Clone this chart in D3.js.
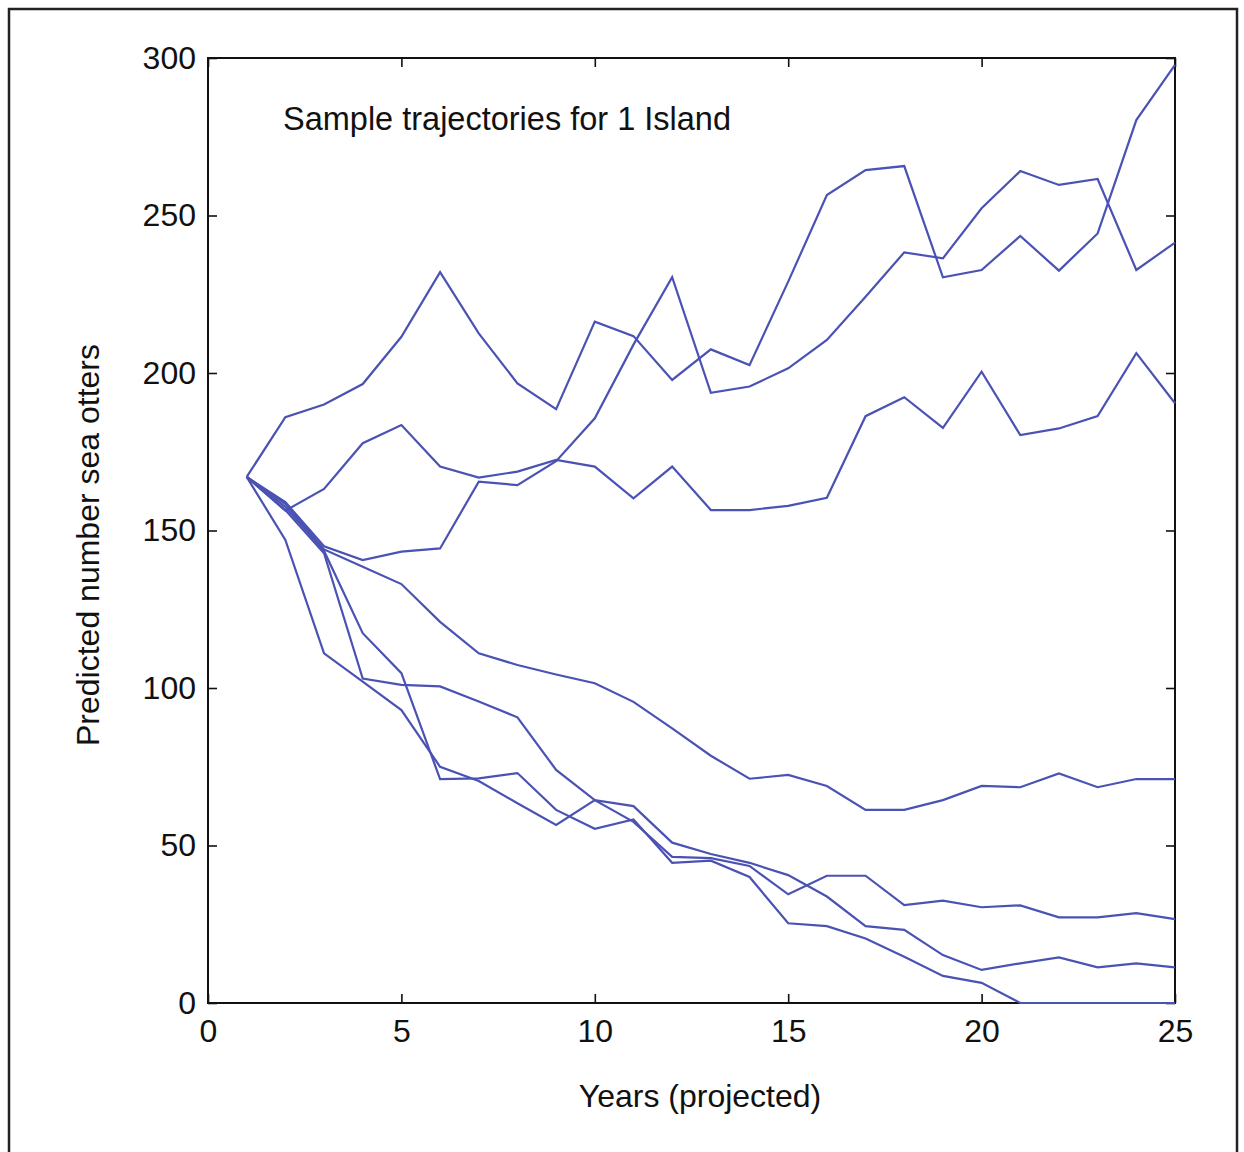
<!DOCTYPE html>
<html>
<head>
<meta charset="utf-8">
<script src="https://cdn.jsdelivr.net/npm/d3@7"></script>
<style>
  html, body { margin: 0; padding: 0; background: #ffffff; }
  svg { display: block; }
  text { font-family: "Liberation Sans", Arial, sans-serif; fill: #111; }
</style>
</head>
<body>
<svg id="chart" width="1244" height="1152"></svg>
<script>
// ---- data ----
const years = [1,2,3,4,5,6,7,8,9,10,11,12,13,14,15,16,17,18,19,20,21,22,23,24,25];
const trajA = [167,186,190,196.5,211.5,232,212.6,196.7,188.5,216.3,211.7,197.8,207.5,202.5,229,256.5,264.4,265.7,230.4,232.7,243.5,232.5,244.3,280.3,297.8];
const trajB = [167,159,145,140.6,143.3,144.3,165.5,164.4,172,185.6,209,230.4,193.7,195.7,201.5,210.5,224.2,238.3,236.4,252.3,264.1,259.7,261.6,232.7,241.4];
const trajC = [167,156.3,163.2,177.7,183.5,170.3,166.8,168.7,172.4,170.3,160.2,170.3,156.5,156.5,157.8,160.4,186.3,192.3,182.6,200.4,180.3,182.4,186.3,206.3,190.4];
const trajD = [167,158.5,144,138.5,133,121,111,107.3,104.3,101.5,95.6,87.2,78.5,71.2,72.4,68.9,61.3,61.3,64.4,68.9,68.5,72.9,68.5,71.1,71.1];
const trajE = [167,157.5,143.5,117.4,104.7,71.1,71.3,73,61.3,55.3,58.3,44.5,45.2,40,25.3,24.4,20.5,14.7,8.6,6.4,0,0,0,0,0];
const trajF = [167,156.5,142.8,103,101,100.5,95.7,90.7,74,64.4,57.5,46.4,46,43.5,34.5,40.4,40.4,31.1,32.5,30.4,31,27.2,27.2,28.5,26.6];
const trajG = [167,147,111,102,93,75,70.5,63.4,56.5,64.4,62.5,50.9,47.3,44.5,40.6,33.8,24.4,23.2,15.2,10.5,12.6,14.5,11.3,12.6,11.3];
const trajectories = [trajA, trajB, trajC, trajD, trajE, trajF, trajG];
const xTicks = [0,5,10,15,20,25];
const yTicks = [0,50,100,150,200,250,300];
const titleText = "Sample trajectories for 1 Island";
const xLabel = "Years (projected)";
const yLabel = "Predicted number sea otters";

// ---- layout ----
const svg = d3.select("#chart");
const L = 208, R = 1175, T = 58, B = 1003;
const x = d3.scaleLinear().domain([0,25]).range([L,R]);
const y = d3.scaleLinear().domain([0,300]).range([B,T]);
const lineColor = "#4a52b3";

// outer frame (bottom edge falls just outside the picture)
svg.append("rect")
  .attr("x", 9).attr("y", 9).attr("width", 1228).attr("height", 1150)
  .attr("fill", "none").attr("stroke", "#222").attr("stroke-width", 2.5);

// axes (ticks inward, MATLAB style)
function styleAxis(g, hideLabels) {
  g.select(".domain").remove();
  g.selectAll(".tick line").attr("stroke", "#111").attr("stroke-width", 1.6);
  g.selectAll(".tick text")
    .style("font-family", "'Liberation Sans', Arial, sans-serif")
    .style("font-size", "32px")
    .attr("fill", "#111");
  if (hideLabels) g.selectAll(".tick text").remove();
}
svg.append("g").attr("transform", `translate(0,${B})`)
  .call(d3.axisBottom(x).tickValues(xTicks).tickSizeInner(-9).tickSizeOuter(0).tickPadding(16).tickFormat(d3.format("d")))
  .call(g => styleAxis(g, false));
svg.append("g").attr("transform", `translate(0,${T})`)
  .call(d3.axisTop(x).tickValues(xTicks).tickSizeInner(-9).tickSizeOuter(0))
  .call(g => styleAxis(g, true));
svg.append("g").attr("transform", `translate(${L},0)`)
  .call(d3.axisLeft(y).tickValues(yTicks).tickSizeInner(-9).tickSizeOuter(0).tickPadding(12).tickFormat(d3.format("d")))
  .call(g => styleAxis(g, false));
svg.append("g").attr("transform", `translate(${R},0)`)
  .call(d3.axisRight(y).tickValues(yTicks).tickSizeInner(-9).tickSizeOuter(0))
  .call(g => styleAxis(g, true));

// plot box
svg.append("rect")
  .attr("x", L).attr("y", T).attr("width", R-L).attr("height", B-T)
  .attr("fill", "none").attr("stroke", "#111").attr("stroke-width", 2);

// trajectories (drawn over the box, as in the reference)
const line = d3.line().x((d,i) => x(years[i])).y(d => y(d));
svg.append("g").selectAll("path").data(trajectories).join("path")
  .attr("d", line)
  .attr("fill", "none")
  .attr("stroke", lineColor)
  .attr("stroke-width", 2.2)
  .attr("stroke-linejoin", "miter");

// texts
svg.append("text").attr("x", 283).attr("y", 130)
  .style("font-size", "32.5px").text(titleText);
svg.append("text").attr("x", 700).attr("y", 1107)
  .attr("text-anchor", "middle").style("font-size", "32px").text(xLabel);
svg.append("text")
  .attr("transform", "translate(99,545) rotate(-90)")
  .attr("text-anchor", "middle").style("font-size", "32px").text(yLabel);
</script>
</body>
</html>
